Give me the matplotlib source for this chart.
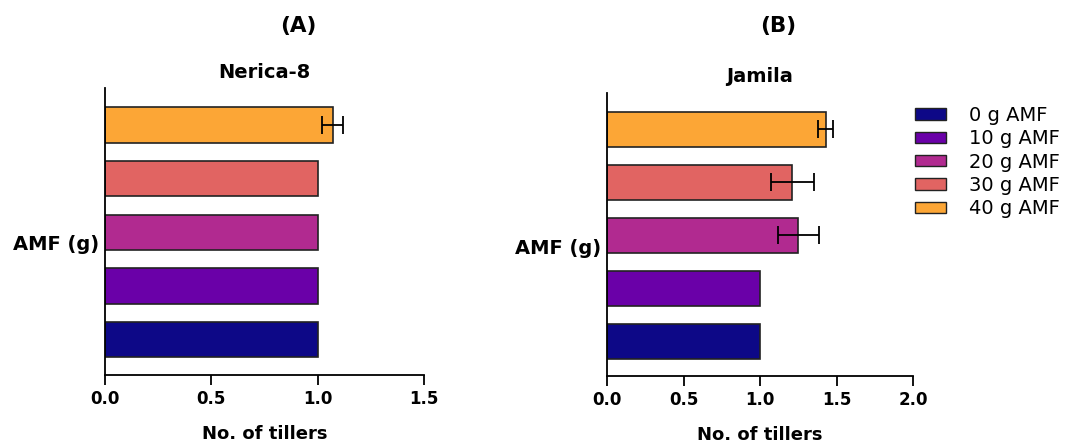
import matplotlib
matplotlib.use("Agg")
import matplotlib.pyplot as plt
from matplotlib.patches import Patch

plt.rcParams['font.family'] = ['DejaVu Sans']

categories = ["0 g AMF", "10 g AMF", "20 g AMF", "30 g AMF", "40 g AMF"]
colors = ["#0d0887", "#6a00a8", "#b12a90", "#e16462", "#fca636"]

nerica_vals = [1.0, 1.0, 1.0, 1.0, 1.07]
nerica_err = [0, 0, 0, 0, 0.05]
jamila_vals = [1.0, 1.0, 1.25, 1.21, 1.43]
jamila_err = [0, 0, 0.135, 0.14, 0.048]

nerica_xticks = [0.0, 0.5, 1.0, 1.5]
jamila_xticks = [0.0, 0.5, 1.0, 1.5, 2.0]

W, H = 1072, 443
fig = plt.figure(figsize=(W / 100, H / 100), dpi=100)

def px_axes(x0, y0, x1, y1):
    return fig.add_axes([x0 / W, 1 - y1 / H, (x1 - x0) / W, (y1 - y0) / H])

ax1 = px_axes(105, 88, 424, 375)
ax2 = px_axes(607, 93, 913, 376)

def draw(ax, vals, errs, xticks, title, panel, panel_x, label_x, label_y, title_y):
    pos = list(range(len(vals)))
    ax.barh(pos, vals, height=0.66, color=colors, edgecolor="#222222", linewidth=1.2)
    for p, v, e in zip(pos, vals, errs):
        if e > 0:
            ax.errorbar(v, p, xerr=e, fmt="none", ecolor="black", elinewidth=1.3,
                        capsize=6.5, capthick=1.3)
    ax.set_ylim(-0.66, 4.69)
    ax.set_xlim(xticks[0], xticks[-1])
    ax.set_xticks(xticks)
    ax.set_xticklabels([f"{t:.1f}" for t in xticks], fontsize=12, fontweight="bold")
    ax.set_yticks([])
    for s in ["top", "right"]:
        ax.spines[s].set_visible(False)
    for s in ["left", "bottom"]:
        ax.spines[s].set_linewidth(1.3)
    ax.tick_params(axis="x", length=7, width=1.3, pad=4)
    ax.set_xlabel("No. of tillers", fontsize=13, fontweight="bold", labelpad=12)
    fig.text(label_x / W, 1 - label_y / H, "AMF (g)", fontsize=14, fontweight="bold",
             ha="center", va="center")
    fig.text(panel_x[0] / W, 1 - panel_x[1] / H, panel, fontsize=15.5, fontweight="bold",
             ha="center", va="center")
    fig.text(title[1] / W, 1 - title_y / H, title[0], fontsize=14, fontweight="bold",
             ha="center", va="center")

draw(ax1, nerica_vals, nerica_err, nerica_xticks, ("Nerica-8", 264), "(A)", (298, 26), 56, 244, 72)
draw(ax2, jamila_vals, jamila_err, jamila_xticks, ("Jamila", 760), "(B)", (778, 26), 558, 248, 77)

handles = [Patch(facecolor=c, edgecolor="#222222", linewidth=1.0) for c in colors]
fig.legend(handles, categories, loc="upper left", bbox_to_anchor=(915 / W, 1 - 106 / H),
           frameon=False, fontsize=14, handlelength=1.6, handleheight=0.52,
           labelspacing=0.22, handletextpad=1.2, borderpad=0, borderaxespad=0)

fig.savefig("out.png", dpi=100)
